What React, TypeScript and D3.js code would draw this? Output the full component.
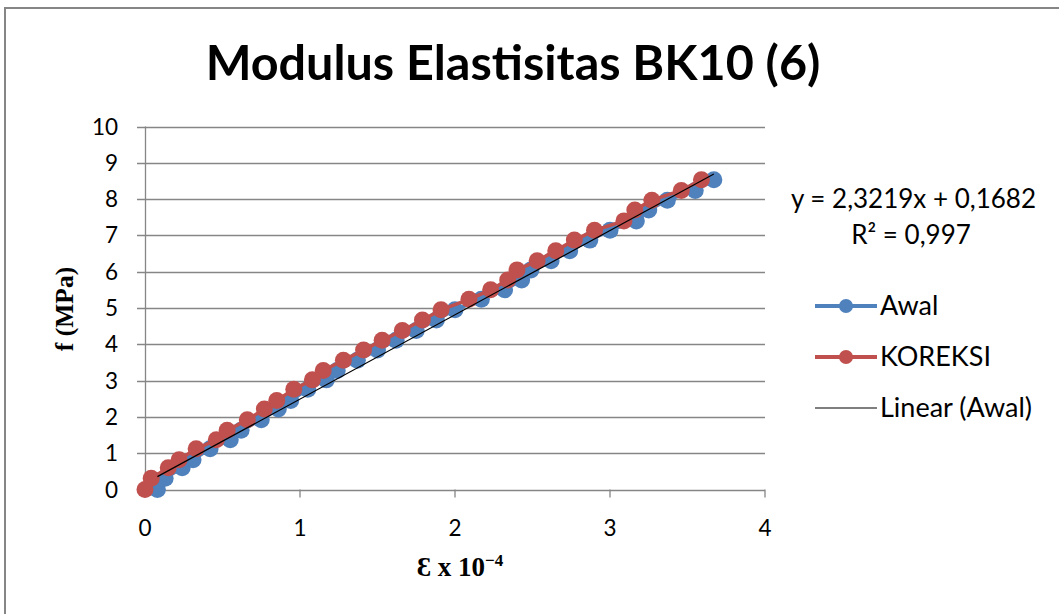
import React from "react";
import * as d3 from "d3";

const awalX = [0.08, 0.13, 0.24, 0.31, 0.42, 0.55, 0.62, 0.75, 0.86, 0.94, 1.05, 1.17, 1.24, 1.37, 1.5, 1.62, 1.75, 1.88, 2.0, 2.17, 2.32, 2.43, 2.49, 2.62, 2.74, 2.87, 3.0, 3.17, 3.25, 3.37, 3.55, 3.67];
const awalY = [0, 0.31, 0.6, 0.82, 1.12, 1.37, 1.63, 1.92, 2.22, 2.45, 2.76, 3.02, 3.28, 3.56, 3.84, 4.11, 4.38, 4.67, 4.95, 5.24, 5.5, 5.77, 6.05, 6.3, 6.58, 6.87, 7.14, 7.4, 7.7, 7.97, 8.24, 8.53];
const koreksiX = [0, 0.04, 0.15, 0.22, 0.33, 0.46, 0.53, 0.66, 0.77, 0.85, 0.96, 1.08, 1.15, 1.28, 1.41, 1.53, 1.66, 1.79, 1.91, 2.09, 2.23, 2.34, 2.4, 2.53, 2.65, 2.77, 2.9, 3.09, 3.16, 3.27, 3.46, 3.59];
const koreksiY = [0, 0.31, 0.6, 0.82, 1.12, 1.37, 1.63, 1.92, 2.22, 2.45, 2.76, 3.02, 3.28, 3.56, 3.84, 4.11, 4.38, 4.67, 4.95, 5.24, 5.5, 5.77, 6.05, 6.3, 6.58, 6.87, 7.14, 7.4, 7.7, 7.97, 8.24, 8.53];
const trendSlope = 2.3219;
const trendIntercept = 0.1682;
const xTicks = [0, 1, 2, 3, 4];
const yTicks = [0, 1, 2, 3, 4, 5, 6, 7, 8, 9, 10];
const title = "Modulus Elastisitas BK10 (6)";
const seriesNames = ["Awal", "KOREKSI", "Linear (Awal)"];

const BLUE = "#4F81BD";
const RED = "#C0504D";
const GRID = "#868686";
const SANS = "Lato, 'Open Sans', sans-serif";
const SERIF = "'Liberation Serif', 'DejaVu Serif', serif";

export default function App() {
  const x = d3.scaleLinear().domain([0, 4]).range([145, 765]);
  const y = d3.scaleLinear().domain([0, 10]).range([489.5, 126.5]);
  const awal = awalX.map((v, i) => [v, awalY[i]] as [number, number]);
  const kor = koreksiX.map((v, i) => [v, koreksiY[i]] as [number, number]);
  const line = d3.line<[number, number]>().x((d) => x(d[0])).y((d) => y(d[1]));
  const tx0 = d3.min(awalX)!;
  const tx1 = d3.max(awalX)!;
  const trend: [number, number][] = [
    [tx0, trendSlope * tx0 + trendIntercept],
    [tx1, trendSlope * tx1 + trendIntercept],
  ];
  const r = 8.5;
  return (
    <svg width={1059} height={614} style={{ position: "absolute", left: 0, top: 0, background: "#fff" }}>
      <rect x={0} y={0} width={1059} height={614} fill="#fff" />
      <rect x={5} y={8} width={1100} height={700} fill="#fff" stroke={GRID} strokeWidth={2} />
      <text x={513} y={80} textAnchor="middle" fontFamily={SANS} fontWeight="bold" fontSize={48.5} fill="#000">
        {title}
      </text>
      {yTicks.map((t) => (
        <g key={"y" + t}>
          <line x1={137} x2={765} y1={Math.round(y(t)) + 0.5} y2={Math.round(y(t)) + 0.5} stroke={GRID} strokeWidth={1.3} />
          <text x={118} y={y(t) + 8} textAnchor="end" fontFamily={SANS} fontSize={22.5} fill="#000">
            {t}
          </text>
        </g>
      ))}
      <line x1={145.5} x2={145.5} y1={y(10)} y2={y(0)} stroke={GRID} strokeWidth={1.3} />
      {xTicks.map((t) => (
        <g key={"x" + t}>
          <line x1={x(t)} x2={x(t)} y1={y(0)} y2={y(0) + 8} stroke={GRID} strokeWidth={1.3} />
          <text x={x(t)} y={536} textAnchor="middle" fontFamily={SANS} fontSize={22.5} fill="#000">
            {t}
          </text>
        </g>
      ))}
      <text x={460} y={576} textAnchor="middle" fontFamily={SERIF} fontWeight="bold" fontSize={27} fill="#000">
        {"Ɛ x 10"}
        <tspan dy={-10} fontSize={17}>{"−4"}</tspan>
      </text>
      <text transform="translate(73,309) rotate(-90)" textAnchor="middle" fontFamily={SERIF} fontWeight="bold" fontSize={25.5} fill="#000">
        f (MPa)
      </text>
      <path d={line(awal)!} fill="none" stroke={BLUE} strokeWidth={3.5} />
      {awal.map((d, i) => (
        <circle key={"a" + i} cx={x(d[0])} cy={y(d[1])} r={r} fill={BLUE} />
      ))}
      <path d={line(kor)!} fill="none" stroke={RED} strokeWidth={3.5} />
      {kor.map((d, i) => (
        <circle key={"k" + i} cx={x(d[0])} cy={y(d[1])} r={r} fill={RED} />
      ))}
      <path d={line(trend)!} fill="none" stroke="#000" strokeWidth={1.2} />
      <text x={1036} y={208} textAnchor="end" fontFamily={SANS} fontSize={26} fill="#000">
        y = 2,3219x + 0,1682
      </text>
      <text x={911} y={244} textAnchor="middle" fontFamily={SANS} fontSize={26} fill="#000">
        R² = 0,997
      </text>
      {seriesNames.map((n, i) => {
        const cy = 306 + i * 51;
        const col = i === 0 ? BLUE : i === 1 ? RED : "#000";
        return (
          <g key={n}>
            <line x1={815} x2={877} y1={cy} y2={cy} stroke={col} strokeWidth={i < 2 ? 4 : 1.2} />
            {i < 2 && <circle cx={846} cy={cy} r={7} fill={col} />}
            <text x={880} y={cy + 9} fontFamily={SANS} fontSize={27} fill="#000">
              {n}
            </text>
          </g>
        );
      })}
    </svg>
  );
}
